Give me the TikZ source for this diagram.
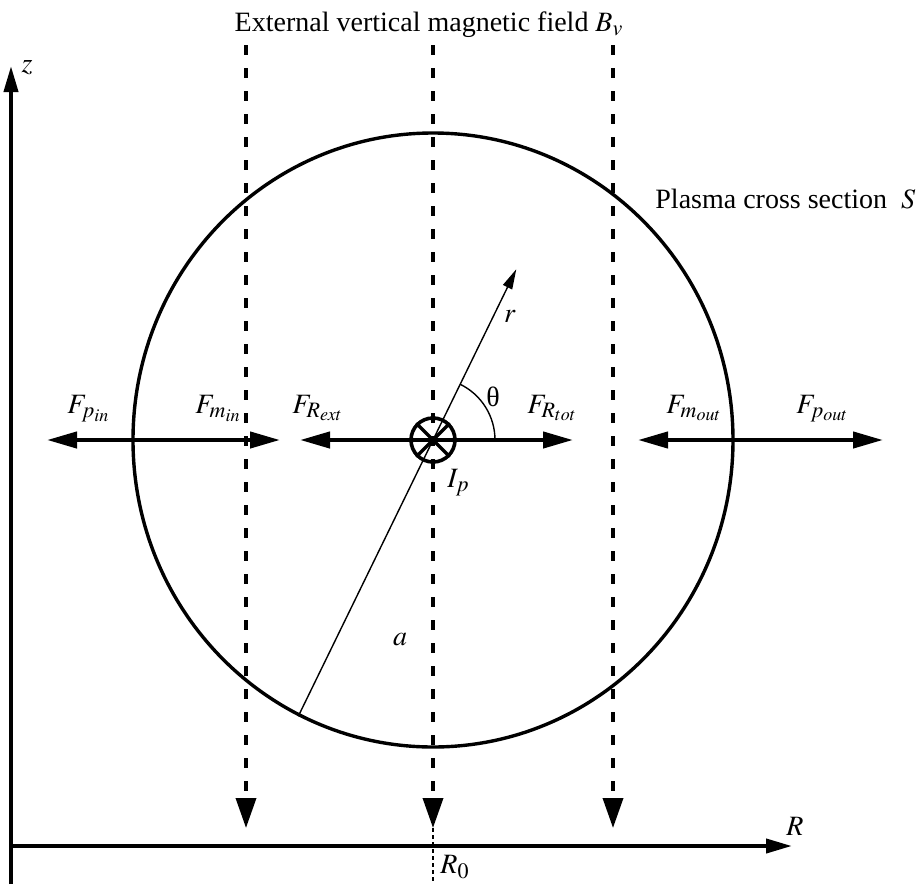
\documentclass[tikz,border=0pt]{standalone}
\usepackage{mathptmx}
\usepackage[no-math]{fontspec}
\setmainfont{Liberation Serif}
\DeclareMathSizes{14}{14}{11}{9}
\usetikzlibrary{arrows.meta,shapes.geometric,positioning,calc}

\begin{document}
\begin{tikzpicture}[
                x=0.5pt, y=0.5pt,
                ax/.style={line width=2pt, -{Triangle[length=13pt,width=7pt]}},
                fld/.style={line width=1.8pt, dash pattern=on 5pt off 6.5pt, -{Triangle[length=15pt,width=10pt]}},
                frc/.style={line width=2.1pt, -{Triangle[length=15pt,width=8pt]}},
                thn/.style={line width=0.7pt},
                lab/.style={inner sep=0pt, font=\fontsize{14}{16}\selectfont}
            ]

\useasboundingbox (0,0) rectangle (916,-884);

% axes
                \coordinate (zb) at (11,-884);
                \coordinate (zt) at (11,-66);
                \coordinate (o) at (11,-846);
                \coordinate (rax) at (792,-846);
                \draw[ax] (zb)--(zt);
                \draw[ax] (o)--(rax);

% plasma and current
                \node[draw, ellipse, line width=1.7pt, minimum width=300pt, minimum height=307pt, inner sep=0pt] (pl) at (433,-440) {};
                \node[draw, circle, line width=1.8pt, minimum size=22pt, inner sep=0pt] (ip) at (433,-440) {};
                \draw[line width=1.6pt] (ip.45)--(ip.225) (ip.135)--(ip.315);

% field lines
                \foreach \x/\n in {246/l,433/c,613/r} {
                    \coordinate (t\n) at (\x,-45);
                    \coordinate (b\n) at (\x,-828);
                    \draw[fld] (t\n)--(b\n);
                }
                \coordinate (r0) at (433,-884);
                \draw[line width=0.6pt, dash pattern=on 2pt off 1.5pt] (bc)--(r0);

% forces
                \coordinate (fpi) at (47,-440);
                \coordinate (fmi) at (280,-440);
                \coordinate (fre) at (300,-440);
                \coordinate (frt) at (573,-440);
                \coordinate (fmo) at (638,-440);
                \coordinate (fpo) at (883,-440);
                \draw[frc] (pl.west)--(fpi);
                \draw[frc] (pl.west)--(fmi);
                \draw[frc] (ip.center)--(fre);
                \draw[frc] (ip.center)--(frt);
                \draw[frc] (pl.east)--(fmo);
                \draw[frc] (pl.east)--(fpo);

% radius and angle
                \coordinate (rtip) at ($(ip.center)+(64:190)$);
                \draw[thn, -{Triangle[length=10pt,width=5pt]}] (pl.244)--(rtip);
                \draw[thn] ($(ip.center)+(62,0)$) arc[start angle=0, end angle=64, radius=62];

% labels
                \node[lab, anchor=base] (ttl) at (429,-31) {External vertical magnetic field $B_v$};
                \node[lab, anchor=base west] (sec) at (655,-208) {Plasma cross section\enspace$S$};
                \node[lab, anchor=base] (zl) at (27,-72) {$z$};
                \node[lab, anchor=base] (rl) at (795,-835) {$R$};
                \node[lab, anchor=base west] (r0l) at (440,-873) {$R_0$};
                \node[lab, anchor=base west] (ipl) at (447,-487) {$I_p$};
                \node[lab, anchor=base] (thl) at (493,-406) {θ};
                \node[lab, anchor=base] (rr) at (510,-322) {$r$};
                \node[lab, anchor=base] (al) at (400,-645) {$a$};

                \node[lab, anchor=base west] (lpi) at (67,-413) {$F_{p_{in}}$};
                \node[lab, anchor=base west] (lmi) at (195,-413) {$F_{m_{in}}$};
                \node[lab, anchor=base west] (lre) at (292,-413) {$F_{R_{ext}}$};
                \node[lab, anchor=base west] (lrt) at (527,-413) {$F_{R_{tot}}$};
                \node[lab, anchor=base west] (lmo) at (666,-413) {$F_{m_{out}}$};
                \node[lab, anchor=base west] (lpo) at (796,-413) {$F_{p_{out}}$};

            \end{tikzpicture}
\end{document}
